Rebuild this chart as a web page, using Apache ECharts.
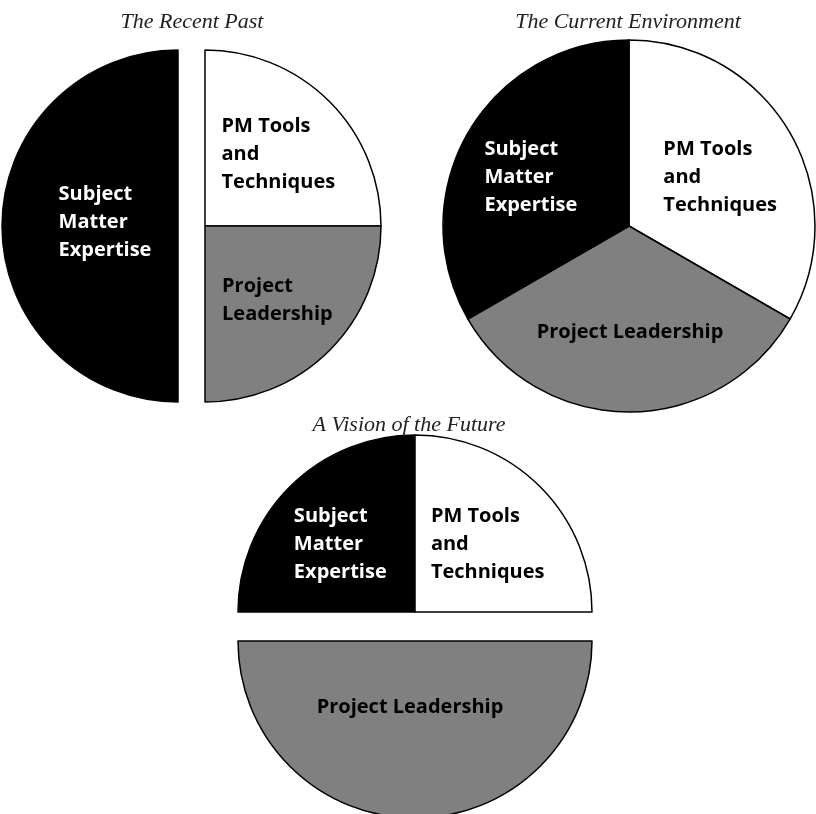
<!DOCTYPE html>
<html>
<head>
<meta charset="utf-8">
<title>PM Skills Over Time</title>
<script src="https://cdn.jsdelivr.net/npm/echarts@6/dist/echarts.min.js"></script>
<style>
  html, body { margin: 0; padding: 0; background: #fff; }
  #chart { width: 816px; height: 814px; }
</style>
</head>
<body>
<div id="chart"></div>
<script>
// chart titles
const titles = ['The Recent Past', 'The Current Environment', 'A Vision of the Future']

// slice names (label text) and shares for each pie, in drawing order
const pastNames = ['PM Tools\nand\nTechniques', 'Project\nLeadership', 'Subject\nMatter\nExpertise']
const pastValues = [25, 25, 50]

const currentNames = ['PM Tools\nand\nTechniques', 'Project Leadership', 'Subject\nMatter\nExpertise']
const currentValues = [1, 1, 1]

const futureNames = ['Subject\nMatter\nExpertise', 'PM Tools\nand\nTechniques', 'Project Leadership']
const futureValues = [25, 25, 50]

// which slice is pulled out of each pie
const pastExploded = [false, false, true]
const currentExploded = [false, false, false]
const futureExploded = [false, false, true]

const colorOf = {
  'Subject': '#000000',
  'PM': '#ffffff',
  'Project': '#808080'
}
function sliceColor(name) {
  return colorOf[name.split(/[\s\n]/)[0]]
}

// small label nudges so the text blocks sit like the original
const pastNudge = [[9, -7], [8, 10], [18, -4]]
const currentNudge = [[8, -1], [1, 10], [-15, -1]]
const futureNudge = [[-10, -3], [8, -3], [-5, -25]]

function buildData(names, values, exploded) {
  return names.map((n, i) => {
    const c = sliceColor(n)
    return {
      name: n,
      value: values[i],
      selected: exploded[i],
      itemStyle: { color: c },
      label: { color: c === '#000000' ? '#ffffff' : '#000000' }
    }
  })
}

function pieSeries(names, values, exploded, nudge, center, radius, startAngle, offset) {
  return {
    type: 'pie',
    center: center,
    radius: radius,
    startAngle: startAngle,
    clockwise: true,
    selectedMode: 'multiple',
    selectedOffset: offset,
    silent: true,
    itemStyle: { borderColor: '#000', borderWidth: 1.5 },
    label: {
      show: true,
      position: 'inside',
      fontFamily: 'Open Sans',
      fontWeight: 'bold',
      fontSize: 20,
      lineHeight: 28,
      formatter: '{b}'
    },
    labelLine: { show: false },
    emphasis: { disabled: true },
    select: { itemStyle: { borderColor: '#000', borderWidth: 1.5 } },
    // left-align the lines but keep the block centred on the slice
    labelLayout: function (params) {
      const nd = nudge[params.dataIndex]
      return { align: 'left', dx: -params.labelRect.width / 2 + nd[0], dy: nd[1] }
    },
    data: buildData(names, values, exploded)
  }
}

const chart = echarts.init(document.getElementById('chart'), null, { renderer: 'canvas' })

const titleStyle = {
  fontFamily: 'Liberation Serif',
  fontStyle: 'italic',
  fontWeight: 'normal',
  fontSize: 22,
  color: '#222'
}

const option = {
  animation: false,
  backgroundColor: '#fff',
  title: [
    { text: titles[0], left: 187, top: 6, textAlign: 'center', textStyle: titleStyle },
    { text: titles[1], left: 623, top: 6, textAlign: 'center', textStyle: titleStyle },
    { text: titles[2], left: 404, top: 409, textAlign: 'center', textStyle: titleStyle }
  ],
  series: [
    pieSeries(pastNames, pastValues, pastExploded, pastNudge, [205, 226], 176, 90, 27),
    pieSeries(currentNames, currentValues, currentExploded, currentNudge, [629, 226], 186, 90, 0),
    pieSeries(futureNames, futureValues, futureExploded, futureNudge, [415, 612], 177, 180, 29)
  ]
}

chart.setOption(option)
</script>
</body>
</html>
